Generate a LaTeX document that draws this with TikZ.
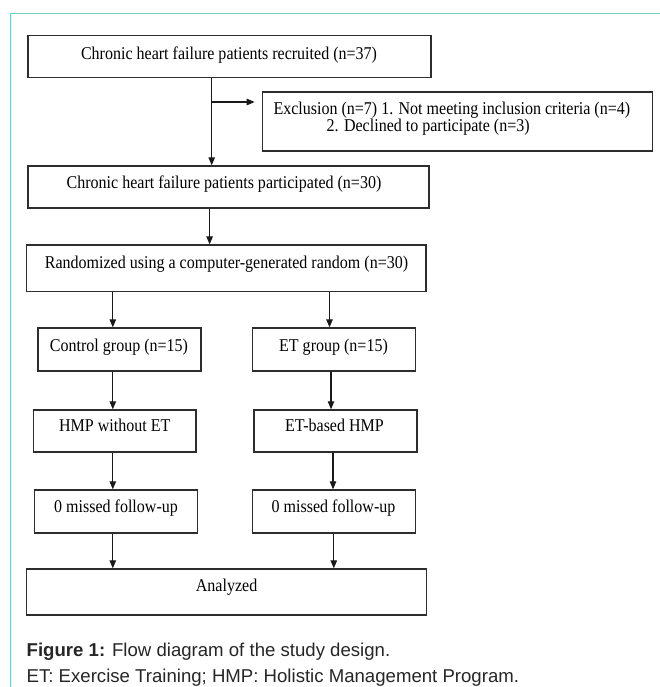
\documentclass[tikz,border=0pt]{standalone}
\usepackage{fontspec}
\setmainfont{Liberation Serif}[FakeStretch=0.89]
\newfontfamily\capfont{Liberation Sans}
\usetikzlibrary{arrows.meta}
\definecolor{frameteal}{RGB}{115,212,196}
\definecolor{boxline}{RGB}{45,45,45}
\begin{document}
\begin{tikzpicture}[x=1pt,y=-1pt,
  box/.style={draw=boxline,line width=1.4pt,rectangle,inner sep=0pt,minimum width=#1},
  txt/.style={font=\fontsize{18}{20}\selectfont,inner sep=0pt,anchor=base},
  txtw/.style={font=\fontsize{18}{20}\selectfont,inner sep=0pt,anchor=base west},
  captxt/.style={font=\capfont\fontsize{18.6}{22}\selectfont,text=black!85,inner sep=0pt,anchor=base west},
  arr/.style={draw=black!90,line width=1.1pt,-{Triangle[length=8pt,width=6.5pt]}}
]
\useasboundingbox (0,0) rectangle (660,687);
\draw[frameteal,line width=1.3pt] (661,13.7) -- (10.7,13.7) -- (10.7,688);

% boxes
\node[box=403pt,minimum height=41.6pt] (b1) at (229.5,56.5) {};
\node[box=390pt,minimum height=59pt] (ex) at (457.4,121.6) {};
\node[box=401pt,minimum height=42pt] (b2) at (228.5,187) {};
\node[box=399.5pt,minimum height=46.7pt] (b3) at (226.3,268.4) {};
\node[box=163pt,minimum height=43pt] (ctl) at (119.4,349.5) {};
\node[box=163pt,minimum height=43pt] (etg) at (334,349.5) {};
\node[box=162.3pt,minimum height=42pt] (hm1) at (114.9,431) {};
\node[box=163pt,minimum height=42pt] (hm2) at (335.3,431) {};
\node[box=163pt,minimum height=43pt] (mf1) at (116,511.5) {};
\node[box=163pt,minimum height=43pt] (mf2) at (334,511.5) {};
\node[box=400pt,minimum height=46pt] (an) at (226.5,592) {};

% texts
\node[txt] (t1) at (229,59.5) {Chronic heart failure patients recruited (n=37)};
\node[txtw] (te1) at (273.3,114.7) {Exclusion (n=7) 1. Not meeting inclusion criteria (n=4)};
\node[txtw] (te2) at (326.5,132) {2. Declined to participate (n=3)};
\node[txt] (t2) at (224,188) {Chronic heart failure patients participated (n=30)};
\node[txt] (t3) at (226.5,268) {Randomized using a computer-generated random (n=30)};
\node[txt] (tc) at (119,351) {Control group (n=15)};
\node[txt] (tg) at (333.5,351) {ET group (n=15)};
\node[txt] (th1) at (114.8,431.7) {HMP without ET};
\node[txt] (th2) at (334.5,431.7) {ET-based HMP};
\node[txt] (tm1) at (116,512.7) {0 missed follow-up};
\node[txt] (tm2) at (333.5,512.7) {0 missed follow-up};
\node[txt] (ta) at (226.6,591) {Analyzed};

% column coordinates
\coordinate (cM) at (211.7,0);
\coordinate (cM2) at (209.6,0);
\coordinate (cL) at (112.8,0);
\coordinate (cR1) at (329.5,0);
\coordinate (cR2) at (331,0);
\coordinate (cR3) at (333,0);
\coordinate (cR4) at (333.8,0);
\coordinate (br) at (211.7,102);

% connectors
\draw[arr] (b1.south -| cM) -- (b2.north -| cM);
\draw[arr,shorten >=7pt] (br) -- (ex.west |- br);
\draw[arr] (b2.south -| cM2) -- (b3.north -| cM2);
\draw[arr] (b3.south -| cL) -- (ctl.north -| cL);
\draw[arr] (b3.south -| cR1) -- (etg.north -| cR1);
\draw[arr] (ctl.south -| cL) -- (hm1.north -| cL);
\draw[arr] (etg.south -| cR2) -- (hm2.north -| cR2);
\draw[arr] (hm1.south -| cL) -- (mf1.north -| cL);
\draw[arr] (hm2.south -| cR3) -- (mf2.north -| cR3);
\draw[arr] (mf1.south -| cL) -- (an.north -| cL);
\draw[arr] (mf2.south -| cR4) -- (an.north -| cR4);

% caption
\node[captxt] (c1) at (26.5,656.7) {\textbf{Figure 1:} Flow diagram of the study design.};
\node[captxt] (c2) at (26.5,682.5) {ET: Exercise Training; HMP: Holistic Management Program.};
\end{tikzpicture}
\end{document}
